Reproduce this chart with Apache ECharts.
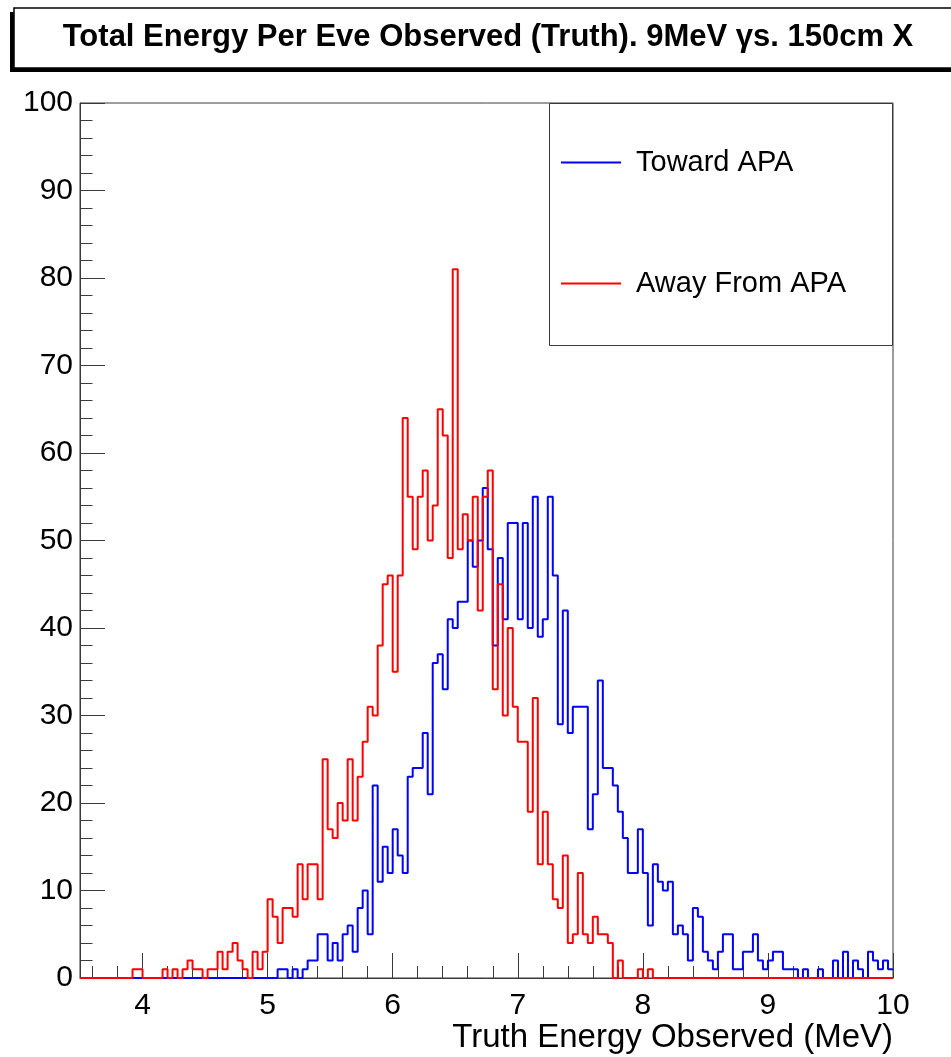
<!DOCTYPE html>
<html lang="en">
<head>
  <meta charset="UTF-8">
  <title>Total Energy Per Eve Observed</title>
  <script src="https://cdn.jsdelivr.net/npm/echarts@6/dist/echarts.min.js"></script>
  <style>
    html, body { margin: 0; padding: 0; background: #fff; }
    #chart { width: 951px; height: 1057px; }
  </style>
</head>
<body>
  <div id="chart"></div>
<script>
  // histogram binning (MeV), bin edges are multiples of 0.04
  var binWidth = 0.04
  var axisMin = 3.5
  var axisMax = 10

  // Away From APA (red), first bin left edge 3.92
  var redStart = 3.92
  var redCounts = [
    1, 1, 0, 0, 0, 0, 1, 0, 1, 0,
    1, 2, 1, 1, 0, 1, 1, 3, 1, 3,
    4, 2, 1, 0, 3, 1, 3, 9, 7, 4,
    8, 8, 7, 13, 9, 13, 13, 9, 25, 17,
    16, 20, 18, 25, 18, 23, 27, 31, 30, 38,
    45, 46, 35, 46, 64, 55, 49, 55, 58, 50,
    54, 65, 62, 48, 81, 49, 53, 50, 55, 42,
    55, 58, 33, 45, 30, 40, 31, 27, 27, 19,
    32, 13, 19, 13, 9, 8, 14, 4, 5, 12,
    5, 4, 7, 5, 5, 4, 0, 2, 0, 0,
    0, 1, 0, 1
  ]

  // Toward APA (blue), first bin left edge 5.08
  var blueStart = 5.08
  var blueCounts = [
    1, 1, 0, 1, 0, 1, 2, 2, 5, 5,
    2, 4, 2, 5, 6, 3, 8, 10, 5, 22,
    11, 15, 12, 17, 14, 12, 23, 24, 24, 28,
    21, 36, 37, 33, 41, 40, 43, 43, 50, 47,
    50, 56, 49, 38, 48, 41, 52, 52, 41, 52,
    40, 55, 39, 41, 55, 46, 29, 42, 28, 31,
    31, 31, 17, 21, 34, 24, 24, 22, 19, 16,
    12, 12, 17, 12, 6, 13, 11, 10, 11, 5,
    6, 5, 2, 8, 7, 3, 2, 1, 3, 5,
    5, 1, 1, 3, 3, 5, 2, 1, 2, 3,
    3, 1, 1, 1, 0, 1, 0, 0, 1, 0,
    0, 2, 0, 3, 0, 2, 1, 0, 3, 2,
    1, 2, 1
  ]

  var xMajorTicks = [4, 5, 6, 7, 8, 9, 10]
  var xMinorTicks = [3.6, 3.8, 4.2, 4.4, 4.6, 4.8, 5.2, 5.4, 5.6, 5.8, 6.2, 6.4, 6.6, 6.8,
    7.2, 7.4, 7.6, 7.8, 8.2, 8.4, 8.6, 8.8, 9.2, 9.4, 9.6, 9.8]

  var font = '"Liberation Sans", Arial, Helvetica, sans-serif'

  // step outline points: [left edge, count], closed at the axis max
  function histPoints(start, counts) {
    var pts = [[axisMin, 0]]
    var first = Math.round(Math.ceil(axisMin / binWidth) * binWidth * 100) / 100
    var last = 0
    for (var e = first; e < axisMax - 1e-6; e = Math.round((e + binWidth) * 100) / 100) {
      var idx = Math.round((e - start) / binWidth)
      var v = (idx >= 0 && idx < counts.length) ? counts[idx] : 0
      pts.push([e, v])
      last = v
    }
    pts.push([axisMax, last])
    return pts
  }

  var chart = echarts.init(document.getElementById('chart'))

  chart.setOption({
    animation: false,
    backgroundColor: '#fff',
    grid: {
      left: 80, right: 58, top: 103, bottom: 79,
      show: true, borderColor: '#3a3a3a', borderWidth: 1, backgroundColor: '#fff'
    },
    xAxis: [
      {
        type: 'value', min: axisMin, max: axisMax,
        axisLine: { show: true, lineStyle: { color: '#3a3a3a', width: 1 } },
        axisTick: { show: true, inside: true, length: 25, customValues: xMajorTicks, lineStyle: { color: '#3a3a3a' } },
        axisLabel: { show: true, customValues: xMajorTicks, fontSize: 30, margin: 13, color: '#000', fontFamily: font },
        splitLine: { show: false }
      },
      {
        type: 'value', min: axisMin, max: axisMax, position: 'bottom',
        axisLine: { show: false },
        axisTick: { show: true, inside: true, length: 12, customValues: xMinorTicks, lineStyle: { color: '#3a3a3a' } },
        axisLabel: { show: false },
        splitLine: { show: false }
      }
    ],
    yAxis: {
      type: 'value', min: 0, max: 100, interval: 10,
      axisLine: { show: true, lineStyle: { color: '#3a3a3a', width: 1 } },
      axisTick: { show: true, inside: true, length: 25, lineStyle: { color: '#3a3a3a' } },
      minorTick: { show: true, splitNumber: 5, length: 12.5, lineStyle: { color: '#3a3a3a' } },
      axisLabel: { fontSize: 30, margin: 7, color: '#000', fontFamily: font },
      splitLine: { show: false }
    },
    series: [
      {
        name: 'Toward APA', type: 'line', step: 'end', symbol: 'none',
        data: histPoints(blueStart, blueCounts),
        lineStyle: { color: '#0000ff', width: 2 }
      },
      {
        name: 'Away From APA', type: 'line', step: 'end', symbol: 'none',
        data: histPoints(redStart, redCounts),
        lineStyle: { color: '#ff0000', width: 2 }
      }
    ],
    graphic: [
      // title pave with shadow
      { type: 'rect', shape: { x: 10, y: 12, width: 960, height: 60 }, style: { fill: '#000' }, z: 10 },
      { type: 'rect', shape: { x: 14, y: 8, width: 960, height: 60 }, style: { fill: '#fff', stroke: '#000', lineWidth: 1.5 }, z: 11 },
      {
        type: 'text', x: 488, y: 37, z: 12,
        style: {
          text: 'Total Energy Per Eve Observed (Truth). 9MeV \u03b3s. 150cm X',
          fill: '#000', font: 'bold 31px ' + font, textAlign: 'center', textVerticalAlign: 'middle'
        }
      },
      // legend box
      { type: 'rect', shape: { x: 549.5, y: 103.5, width: 343, height: 242 }, style: { fill: '#fff', stroke: '#3a3a3a', lineWidth: 1 }, z: 20 },
      { type: 'line', shape: { x1: 561, y1: 162.5, x2: 621, y2: 162.5 }, style: { stroke: '#0000ff', lineWidth: 2 }, z: 21 },
      {
        type: 'text', x: 636, y: 163, z: 21,
        style: { text: 'Toward APA', fill: '#000', font: '29px ' + font, textVerticalAlign: 'middle' }
      },
      { type: 'line', shape: { x1: 561, y1: 283.5, x2: 621, y2: 283.5 }, style: { stroke: '#ff0000', lineWidth: 2 }, z: 21 },
      {
        type: 'text', x: 636, y: 284, z: 21,
        style: { text: 'Away From APA', fill: '#000', font: '29px ' + font, textVerticalAlign: 'middle' }
      },
      // x axis title
      {
        type: 'text', x: 893, y: 1038, z: 21,
        style: { text: 'Truth Energy Observed (MeV)', fill: '#000', font: '33px ' + font, textAlign: 'right', textVerticalAlign: 'middle' }
      }
    ]
  })
</script>
</body>
</html>
